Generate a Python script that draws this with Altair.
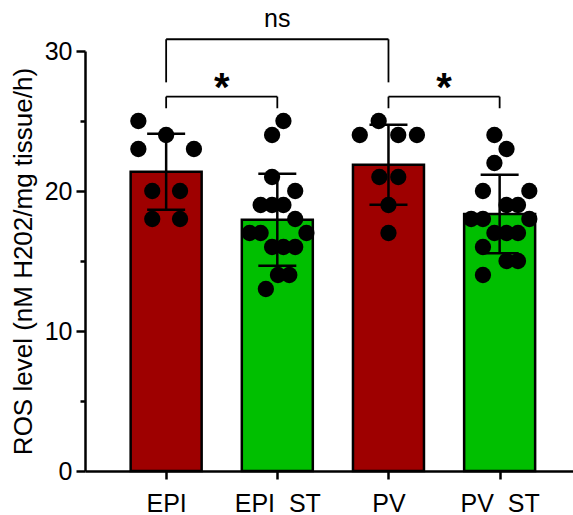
import altair as alt
import pandas as pd

# ---------------- data ----------------
groups = ["EPI", "EPI ST", "PV", "PV ST"]
tick_labels = ["EPI", "EPI\u00a0\u00a0ST", "PV", "PV\u00a0\u00a0ST"]
bar_colors = ["#9E0000", "#00BF00", "#9E0000", "#00BF00"]

epi_values = [25, 24, 23, 23, 20, 20, 18, 18]
epi_offsets = [-0.25, 0.0, -0.25, 0.25, -0.125, 0.125, -0.125, 0.125]

epi_st_values = [25, 24, 21, 20, 19, 19, 19, 18, 17, 17, 17, 16, 16, 16, 14, 14, 13]
epi_st_offsets = [0.055, -0.047, -0.047, 0.161, -0.15, -0.047, 0.055, 0.161,
                  -0.249, -0.15, 0.262, -0.047, 0.055, 0.161, 0.006, 0.108, -0.103]

pv_values = [25, 24, 24, 24, 21, 21, 19, 17]
pv_offsets = [-0.088, -0.258, 0.088, 0.256, -0.082, 0.088, 0.0, 0.0]

pv_st_values = [24, 23, 22, 20, 20, 19, 19, 18, 18, 18, 17, 17, 17, 16, 15, 15, 14]
pv_st_offsets = [-0.047, 0.062, -0.047, -0.15, 0.267, 0.062, 0.165, -0.256, -0.15,
                 0.267, -0.047, 0.062, 0.165, -0.15, 0.062, 0.165, -0.15]

# significance brackets (group positions 1..4)
sig_left = [1, 1, 3]
sig_right = [3, 2, 4]
sig_top = [30.84, 26.74, 26.74]
sig_leg_end = [27.76, 25.91, 25.91]
sig_text = ["ns", "*", "*"]
sig_text_y = [31.74, 26.45, 26.45]

# ---------------- tables ----------------
rows = []
for gi, (vals, offs) in enumerate([(epi_values, epi_offsets), (epi_st_values, epi_st_offsets),
                                   (pv_values, pv_offsets), (pv_st_values, pv_st_offsets)]):
    for v, o in zip(vals, offs):
        rows.append({"group": groups[gi], "pos": gi + 1, "value": v, "off": o})
df = pd.DataFrame(rows)

top_df = pd.DataFrame({"x1": sig_left, "x2": sig_right, "y": sig_top})
legs_rows = []
for l, r, t, e in zip(sig_left, sig_right, sig_top, sig_leg_end):
    legs_rows.append({"x": l, "y1": t, "y2": e})
    legs_rows.append({"x": r, "y1": t, "y2": e})
legs_df = pd.DataFrame(legs_rows)
txt_df = pd.DataFrame({"x": [(l + r) / 2 for l, r in zip(sig_left, sig_right)],
                       "y": sig_text_y, "t": sig_text})

FONT = "Liberation Sans"
xs = alt.Scale(domain=[0.315, 4.615], nice=False, zero=False)
ys = alt.Scale(domain=[0, 30], nice=False, zero=True)

label_js = "[" + ",".join("'" + s + "'" for s in tick_labels) + "]"
xaxis = alt.Axis(values=[1, 2, 3, 4], labelExpr=label_js + "[datum.value - 1]", title=None,
                 grid=False, domainColor="black", domainWidth=2.5, tickColor="black",
                 tickWidth=2.5, tickSize=8, labelFont=FONT, labelFontSize=25,
                 labelColor="black", labelPadding=12)
yaxis = alt.Axis(values=[0, 5, 10, 15, 20, 25, 30],
                 labelExpr="datum.value % 10 === 0 ? datum.label : ''",
                 title="ROS level (nM H202/mg tissue/h)", grid=False,
                 domainColor="black", domainWidth=2.5, tickColor="black", tickWidth=2.5,
                 tickSize={"condition": {"test": "datum.value % 10 === 0", "value": 9}, "value": 5},
                 labelFont=FONT, labelFontSize=25, labelColor="black", labelPadding=4,
                 titleFont=FONT, titleFontSize=26, titleFontWeight="normal",
                 titleColor="black", titlePadding=8)


def X(field):
    return alt.X(field, scale=xs, axis=xaxis)


def Y(field):
    return alt.Y(field, scale=ys, axis=yaxis)


bars = alt.Chart(df).mark_bar(width=71, stroke="black", strokeWidth=2.5, opacity=1).encode(
    x=X("pos:Q"),
    y=Y("mean(value):Q"),
    color=alt.Color("group:N", scale=alt.Scale(domain=groups, range=bar_colors), legend=None),
)

dots = alt.Chart(df).transform_calculate(xd="datum.pos + datum.off").mark_circle(
    size=265, color="black", opacity=1).encode(x=X("xd:Q"), y=Y("value:Q"))

stats = alt.Chart(df).transform_aggregate(
    m="mean(value)", s="stdev(value)", groupby=["pos"]
).transform_calculate(lo="datum.m - datum.s", hi="datum.m + datum.s")

err_rule = stats.mark_rule(color="black", strokeWidth=2.5).encode(
    x=X("pos:Q"), y=Y("lo:Q"), y2="hi:Q")
caps = stats.transform_fold(["lo", "hi"], as_=["which", "yv"]).mark_tick(
    orient="horizontal", size=38, thickness=2.5, color="black", opacity=1).encode(
    x=X("pos:Q"), y=Y("yv:Q"))

tops = alt.Chart(top_df).mark_rule(color="black", strokeWidth=1.8).encode(
    x=X("x1:Q"), x2="x2:Q", y=Y("y:Q"))
legs = alt.Chart(legs_df).mark_rule(color="black", strokeWidth=1.8).encode(
    x=X("x:Q"), y=Y("y1:Q"), y2="y2:Q")
ns_text = alt.Chart(txt_df).transform_filter("datum.t === 'ns'").mark_text(
    font=FONT, fontSize=25, color="black", baseline="alphabetic", align="center").encode(
    x=X("x:Q"), y=Y("y:Q"), text="t:N")
star_text = alt.Chart(txt_df).transform_filter("datum.t !== 'ns'").mark_text(
    font=FONT, fontSize=40, fontWeight="bold", color="black", baseline="alphabetic",
    align="center").encode(x=X("x:Q"), y=Y("y:Q"), text="t:N")

chart = alt.layer(bars, err_rule, caps, dots, tops, legs, ns_text, star_text).properties(
    width=488, height=420,
    autosize=alt.AutoSizeParams(type="none"),
    padding={"left": 85, "top": 51, "right": 0, "bottom": 44},
).configure(font=FONT).configure_view(stroke=None)

chart.save("out.html", embed_options={"renderer": "svg", "actions": False})
